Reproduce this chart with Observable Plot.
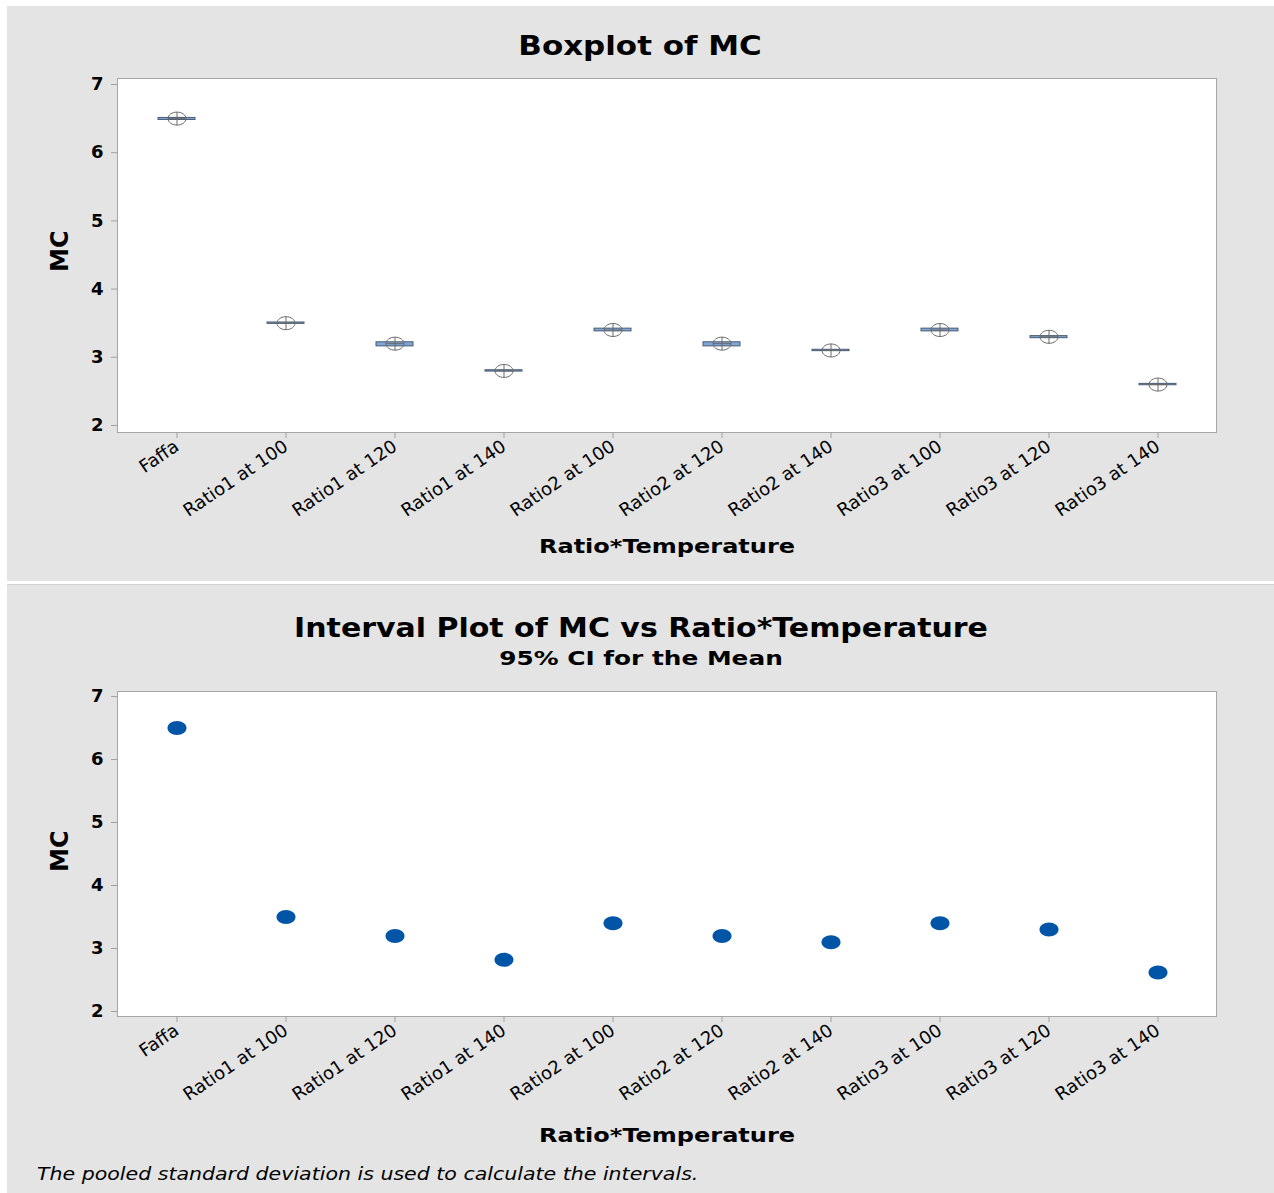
<!DOCTYPE html>
<html>
<head>
<meta charset="utf-8">
<script src="https://cdn.jsdelivr.net/npm/d3@7"></script>
<script src="https://cdn.jsdelivr.net/npm/@observablehq/plot@0.6"></script>
<style>
  html, body { margin: 0; padding: 0; background: #ffffff; }
  #wrap { position: relative; width: 1274px; height: 1193px; overflow: hidden; font-family: "DejaVu Sans", sans-serif; color: #000; }
  .panel { position: absolute; background: #e4e4e4; }
  .panel svg { position: absolute; left: 0; top: 0; }
  .txt { position: absolute; white-space: nowrap; line-height: 1; }
</style>
</head>
<body>
<div id="wrap">
  <div class="panel" id="p1" style="left:7px;top:6px;width:1267px;height:575px;"></div>
  <div class="panel" id="p2" style="left:7px;top:584px;width:1267px;height:609px;border-top:1px solid #d2d2d2;box-sizing:border-box;"></div>

  <div class="txt" style="left:640px;top:33px;font-size:26px;font-weight:bold;transform:translateX(-50%) scaleX(1.19);">Boxplot of MC</div>
  <div class="txt" style="left:48px;top:272px;font-size:24px;font-weight:bold;transform:rotate(-90deg);transform-origin:0 0;">MC</div>
  <div class="txt" style="left:667px;top:536px;font-size:20px;font-weight:bold;transform:translateX(-50%) scaleX(1.2);">Ratio*Temperature</div>

  <div class="txt" style="left:641px;top:614px;font-size:27px;font-weight:bold;transform:translateX(-50%) scaleX(1.11);">Interval Plot of MC vs Ratio*Temperature</div>
  <div class="txt" style="left:641px;top:648px;font-size:20px;font-weight:bold;transform:translateX(-50%) scaleX(1.24);">95% CI for the Mean</div>
  <div class="txt" style="left:48px;top:872px;font-size:24px;font-weight:bold;transform:rotate(-90deg);transform-origin:0 0;">MC</div>
  <div class="txt" style="left:667px;top:1125px;font-size:20px;font-weight:bold;transform:translateX(-50%) scaleX(1.2);">Ratio*Temperature</div>
  <div class="txt" style="left:37px;top:1165px;font-size:18px;font-style:italic;transform:scaleX(1.14);transform-origin:0 0;">The pooled standard deviation is used to calculate the intervals.</div>
</div>
<script>
// ---- data ----
const categories = ["Faffa", "Ratio1 at 100", "Ratio1 at 120", "Ratio1 at 140", "Ratio2 at 100",
                    "Ratio2 at 120", "Ratio2 at 140", "Ratio3 at 100", "Ratio3 at 120", "Ratio3 at 140"];
const boxQ1    = [6.48, 3.49, 3.16, 2.79, 3.38, 3.16, 3.09, 3.38, 3.28, 2.59];
const boxQ3    = [6.51, 3.51, 3.22, 2.81, 3.42, 3.22, 3.11, 3.42, 3.31, 2.61];
const boxMeans = [6.5, 3.5, 3.2, 2.8, 3.4, 3.2, 3.1, 3.4, 3.3, 2.6];
const ciMeans  = [6.5, 3.5, 3.2, 2.82, 3.4, 3.2, 3.1, 3.4, 3.3, 2.62];
const yTicks   = [2, 3, 4, 5, 6, 7];

const boxData = categories.map((c, i) => ({cat: c, q1: boxQ1[i], q3: boxQ3[i], mean: boxMeans[i]}));
const ciData  = categories.map((c, i) => ({cat: c, mean: ciMeans[i]}));

function ellipsePath(ctx, rx, ry, cross) {
  const k = 0.5523;
  ctx.moveTo(rx, 0);
  ctx.bezierCurveTo(rx, k * ry, k * rx, ry, 0, ry);
  ctx.bezierCurveTo(-k * rx, ry, -rx, k * ry, -rx, 0);
  ctx.bezierCurveTo(-rx, -k * ry, -k * rx, -ry, 0, -ry);
  ctx.bezierCurveTo(k * rx, -ry, rx, -k * ry, rx, 0);
  ctx.closePath();
  if (cross) {
    ctx.moveTo(-rx, 0); ctx.lineTo(rx, 0);
    ctx.moveTo(0, -ry); ctx.lineTo(0, ry);
  }
}
const meanSymbol = {draw(ctx) { ellipsePath(ctx, 9, 6.5, true); }};
const dotSymbol  = {draw(ctx) { ellipsePath(ctx, 9.5, 7, false); }};

const common = {
  width: 1267,
  marginLeft: 110,
  marginRight: 58,
  style: {background: "transparent", fontFamily: "DejaVu Sans, sans-serif", color: "black", overflow: "visible"},
  x: {type: "band", domain: categories, padding: 0, align: 0.5}
};
const axes = () => [
  Plot.axisY({ticks: yTicks, tickFormat: d3.format("d"), tickSize: 6, tickPadding: 8, stroke: "#a0a0a0", fill: "black", fontSize: 18, fontWeight: "bold", label: null}),
  Plot.axisX({tickSize: 6, tickRotate: -34, tickPadding: 6, stroke: "#a0a0a0", fill: "black", fontSize: 18, label: null})
];

const chart1 = Plot.plot({
  ...common,
  height: 575,
  marginTop: 72,
  marginBottom: 149,
  y: {domain: [1.897, 7.088]},
  marks: [
    Plot.frame({fill: "white", stroke: "#a6a6a6"}),
    Plot.barY(boxData, {x: "cat", y1: "q1", y2: "q3", fill: "#7ea6d9", stroke: "#4b5b70", strokeWidth: 1, insetLeft: 36, insetRight: 36}),
    Plot.dot(boxData, {x: "cat", y: "mean", symbol: meanSymbol, fill: "none", stroke: "#6a6a6a", strokeWidth: 1}),
    ...axes()
  ]
});
document.getElementById("p1").appendChild(chart1);

const chart2 = Plot.plot({
  ...common,
  height: 608,
  marginTop: 106,
  marginBottom: 177,
  y: {domain: [1.92, 7.08]},
  marks: [
    Plot.frame({fill: "white", stroke: "#a6a6a6"}),
    Plot.dot(ciData, {x: "cat", y: "mean", symbol: dotSymbol, fill: "#0055a6", stroke: "none"}),
    ...axes()
  ]
});
document.getElementById("p2").appendChild(chart2);
</script>
</body>
</html>
